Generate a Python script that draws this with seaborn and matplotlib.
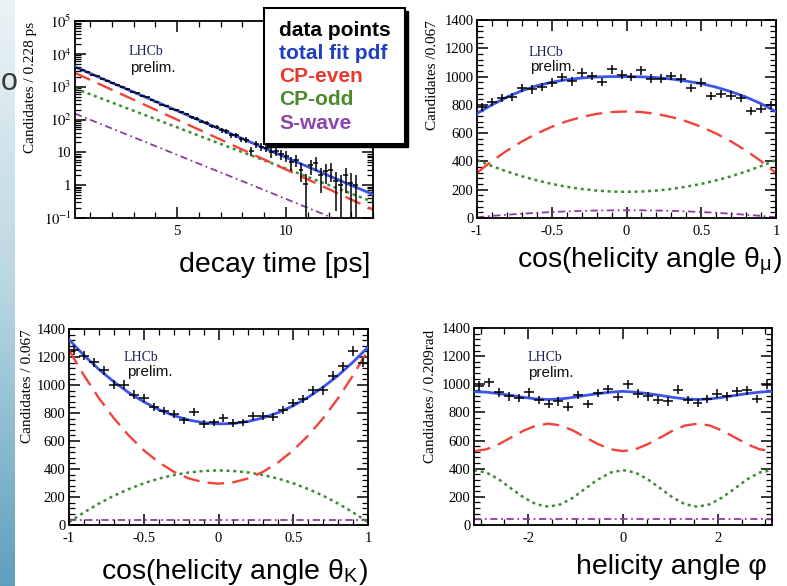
import numpy as np
import pandas as pd
import matplotlib
matplotlib.use("Agg")
import matplotlib.pyplot as plt
import seaborn as sns
from matplotlib.colors import LinearSegmentedColormap
from matplotlib.patches import Rectangle
from matplotlib.ticker import MultipleLocator, LogLocator, FuncFormatter, NullFormatter

# ─── Data ────────────────────────────────────────────────────────────────────
# decay time panel: 60 bins of 0.228 ps between 0.3 and 14 ps
T_RANGE = (0.3, 14.0)
T_NBINS = 60
T_DATA = [3750, 3150, 2780, 2330, 2060, 1720, 1530, 1290, 1140, 950,
          845, 700, 630, 520, 470, 385, 350, 285, 258, 212,
          200, 168, 150, 118, 106, 86, 79, 62, 60, 47,
          44, 34, 33, 25, 24, 11, 18, 15, 14, 10,
          11, 9, 8, 5, 6, 3, 1.1, 4, 4.8, 2,
          2.7, 3, 1.3, 1.0, 2.0, 1.2, 1.0, np.nan, np.nan, np.nan]
T_GRID = [0.3, 2, 4, 6, 8, 10, 12, 14]
T_TOTAL = [4000, 1312, 355, 96, 26, 7.0, 1.9, 0.52]
T_EVEN = [2630, 802, 198, 49, 12.1, 3.0, 0.74, 0.18]
T_ODD = [880, 329, 103, 32, 10.1, 3.2, 0.99, 0.31]
T_SWAVE = [151, 53, 15.5, 4.5, 1.32, 0.38, 0.11, 0.03]

# cos(theta_mu) and cos(theta_K) panels: 30 bins between -1 and 1
COS_NBINS = 30
MU_DATA = [783, 819, 847, 854, 918, 909, 925, 956, 997, 966,
           1027, 1004, 961, 1051, 1013, 997, 1044, 985, 985, 1004,
           985, 918, 956, 861, 878, 866, 847, 759, 771, 800]
K_DATA = [1253, 1210, 1162, 1105, 1002, 1002, 931, 907, 842, 811,
          795, 747, 804, 723, 733, 764, 728, 733, 780, 780,
          771, 823, 871, 900, 962, 962, 1067, 1134, 1241, 1160]
COS_GRID = [-1.0, -0.9, -0.8, -0.7, -0.6, -0.5, -0.4, -0.3, -0.2, -0.1, 0.0,
            0.1, 0.2, 0.3, 0.4, 0.5, 0.6, 0.7, 0.8, 0.9, 1.0]
MU_TOTAL = [740, 800, 855, 900, 935, 960, 978, 990, 997, 1000, 1000,
            998, 993, 983, 968, 950, 925, 893, 855, 808, 752]
MU_EVEN = [320, 402, 476, 541, 597, 645, 684, 714, 736, 749, 753,
           749, 736, 714, 684, 645, 597, 541, 476, 402, 318]
MU_ODD = [410, 367, 329, 295, 266, 241, 221, 205, 194, 187, 185,
          187, 194, 205, 221, 241, 266, 295, 329, 367, 410]
MU_SWAVE = [5, 15, 23, 30, 37, 42, 47, 50, 53, 54, 55,
            54, 53, 50, 47, 42, 37, 30, 23, 15, 5]
K_TOTAL = [1324, 1212, 1112, 1023, 945, 880, 825, 782, 750, 731, 722,
           725, 740, 766, 803, 852, 913, 985, 1068, 1164, 1270]
K_EVEN = [1250, 1069, 906, 763, 639, 534, 448, 381, 333, 305, 295,
          305, 333, 381, 448, 534, 639, 763, 906, 1069, 1250]
K_ODD = [20, 90, 153, 209, 257, 298, 331, 357, 375, 386, 390,
         386, 375, 357, 331, 298, 257, 209, 153, 90, 20]
K_SWAVE = [36, 36, 36, 36, 36, 36, 36, 36, 36, 36, 36,
           36, 36, 36, 36, 36, 36, 36, 36, 36, 36]

# phi panel: 30 bins between -pi and pi
PHI_RANGE = (-np.pi, np.pi)
PHI_DATA = [990, 1013, 942, 914, 902, 942, 890, 861, 878, 842,
            925, 861, 937, 966, 909, 1001, 933, 914, 890, 878,
            961, 890, 866, 895, 933, 914, 949, 956, 895, 997]
PHI_GRID = [-3.14, -2.88, -2.62, -2.36, -2.09, -1.83, -1.57, -1.31, -1.05, -0.79, -0.52, -0.26, 0.0,
            0.26, 0.52, 0.79, 1.05, 1.31, 1.57, 1.83, 2.09, 2.36, 2.62, 2.88, 3.14]
PHI_TOTAL = [948, 944, 934, 921, 907, 896, 892, 896, 907, 921, 934, 944, 950,
             944, 934, 921, 907, 896, 892, 896, 907, 921, 934, 944, 950]
PHI_EVEN = [525, 538, 574, 622, 671, 707, 720, 707, 671, 622, 574, 538, 525,
            538, 574, 622, 671, 707, 720, 707, 671, 622, 574, 538, 525]
PHI_ODD = [390, 373, 325, 260, 195, 147, 130, 147, 195, 260, 325, 373, 390,
           373, 325, 260, 195, 147, 130, 147, 195, 260, 325, 373, 390]
PHI_SWAVE = [40] * 25

LEGEND_LABELS = ["data points", "total fit pdf", "CP-even", "CP-odd", "S-wave"]

# ─── Style ───────────────────────────────────────────────────────────────────
sns.set_style("ticks")
plt.rcParams["font.family"] = ["Liberation Sans", "DejaVu Sans"]
plt.rcParams["mathtext.fontset"] = "stix"
plt.rcParams["axes.unicode_minus"] = False

C_BLUE = "#3a55e8"
C_RED = "#f0443a"
C_GREEN = "#3f8a35"
C_PURPLE = "#8a3d9c"
LEG_COLORS = ["black", "#1f3fbf", "#e8392f", "#4a8a2a", "#8e44ad"]

SERIF = "Liberation Serif"


def centers(lo, hi, n):
    edges = np.linspace(lo, hi, n + 1)
    return 0.5 * (edges[1:] + edges[:-1]), 0.5 * (edges[1] - edges[0])


def root_axes(ax):
    for s in ax.spines.values():
        s.set_linewidth(1.3)
        s.set_color("black")
        s.set_visible(True)
    ax.tick_params(which="both", direction="in", top=True, right=True, color="black",
                   labelsize=10.5, labelfontfamily=SERIF, pad=2.5, labelcolor="black")
    ax.tick_params(axis="x", which="both", pad=5)
    ax.tick_params(which="major", length=8, width=1.1)
    ax.tick_params(which="minor", length=4, width=0.9)
    ax.set_facecolor("white")


def draw_curves(ax, x, total, even, odd, swave):
    sns.lineplot(x=x, y=swave, ax=ax, color=C_PURPLE, linewidth=1.3,
                 linestyle=(0, (4, 2, 1, 2)), zorder=2)
    sns.lineplot(x=x, y=odd, ax=ax, color=C_GREEN, linewidth=1.8,
                 linestyle=(0, (1.2, 1.5)), zorder=2)
    sns.lineplot(x=x, y=even, ax=ax, color=C_RED, linewidth=1.7,
                 linestyle=(0, (7, 3.5)), zorder=2)
    sns.lineplot(x=x, y=total, ax=ax, color=C_BLUE, linewidth=2.0, zorder=3)


def draw_data(ax, x, y, half):
    y = np.asarray(y, dtype=float)
    err = np.sqrt(y)
    lower = np.minimum(err, y * 0.9999)
    ax.errorbar(x, y, yerr=[lower, err], xerr=half, fmt="none", ecolor="black",
                elinewidth=1.1, capsize=0, zorder=4)


def label_texts(ax, ylabel, ytop, lx, ly1, ly2, px, lab_x):
    ax.text(lab_x, ytop, ylabel, rotation=90, ha="center", va="top", transform=ax.transAxes,
            fontfamily=SERIF, fontsize=11, color="black")
    ax.text(lx, ly1, "LHCb", transform=ax.transAxes, ha="left", va="center",
            fontfamily=SERIF, fontsize=10, color="#1c2250")
    ax.text(px, ly2, "prelim.", transform=ax.transAxes, ha="left", va="center",
            fontsize=11, color="#111111")


gfmt = FuncFormatter(lambda v, p: "%g" % v)

fig = plt.figure(figsize=(7.87, 5.86), dpi=100)
fig.patch.set_facecolor("white")

# slide background strip on the left edge
bg = fig.add_axes([0, 0, 15 / 787, 1], zorder=-5)
strip = LinearSegmentedColormap.from_list("strip", ["#eaf3f6", "#b8d6e2", "#5f9fbe"])
bg.imshow(np.linspace(0, 1, 256).reshape(-1, 1), aspect="auto", cmap=strip,
          extent=[0, 1, 0, 1], origin="upper")
bg.axis("off")
fig.text(1 / 787, 1 - 82 / 586, "o", fontsize=22, color="#3a3a3a", ha="left", va="center")

# ─── Panel 1: decay time ─────────────────────────────────────────────────────
ax1 = fig.add_axes([75 / 787, 1 - 218 / 586, 298 / 787, 197 / 586])
ax1.set_yscale("log")
tx, thalf = centers(T_RANGE[0], T_RANGE[1], T_NBINS)
draw_curves(ax1, T_GRID, T_TOTAL, T_EVEN, T_ODD, T_SWAVE)
draw_data(ax1, tx, T_DATA, thalf)
ax1.set_xlim(*T_RANGE)
ax1.set_ylim(0.1, 1e5)
root_axes(ax1)
ax1.xaxis.set_major_locator(MultipleLocator(5))
ax1.xaxis.set_minor_locator(MultipleLocator(1))
ax1.xaxis.set_major_formatter(gfmt)
ax1.yaxis.set_major_locator(LogLocator(base=10, numticks=10))
ax1.yaxis.set_minor_locator(LogLocator(base=10, subs=np.arange(2, 10), numticks=20))
ax1.yaxis.set_minor_formatter(NullFormatter())


def logfmt(v, p):
    if np.isclose(v, 10):
        return "10"
    if np.isclose(v, 1):
        return "1"
    return r"$10^{%d}$" % int(round(np.log10(v)))


ax1.yaxis.set_major_formatter(FuncFormatter(logfmt))
label_texts(ax1, "Candidates / 0.228 ps", 0.995, 0.178, 0.843, 0.761, 0.185, -0.148)

# ─── Panel 2: cos theta_mu ───────────────────────────────────────────────────
ax2 = fig.add_axes([477 / 787, 1 - 218 / 586, 299 / 787, 198 / 586])
cx, chalf = centers(-1, 1, COS_NBINS)
draw_curves(ax2, COS_GRID, MU_TOTAL, MU_EVEN, MU_ODD, MU_SWAVE)
draw_data(ax2, cx, MU_DATA, chalf)
ax2.set_xlim(-1, 1)
ax2.set_ylim(0, 1400)
label_texts(ax2, "Candidates /0.067", 1.0, 0.174, 0.838, 0.763, 0.177, -0.148)

# ─── Panel 3: cos theta_K ────────────────────────────────────────────────────
ax3 = fig.add_axes([69 / 787, 1 - 525 / 586, 299 / 787, 196 / 586])
draw_curves(ax3, COS_GRID, K_TOTAL, K_EVEN, K_ODD, K_SWAVE)
draw_data(ax3, cx, K_DATA, chalf)
ax3.set_xlim(-1, 1)
ax3.set_ylim(0, 1400)
label_texts(ax3, "Candidates / 0.067", 1.0, 0.181, 0.857, 0.781, 0.194, -0.140)

# ─── Panel 4: phi ────────────────────────────────────────────────────────────
ax4 = fig.add_axes([474 / 787, 1 - 525 / 586, 298 / 787, 197 / 586])
px, phalf = centers(PHI_RANGE[0], PHI_RANGE[1], len(PHI_DATA))
draw_curves(ax4, PHI_GRID, PHI_TOTAL, PHI_EVEN, PHI_ODD, PHI_SWAVE)
draw_data(ax4, px, PHI_DATA, phalf)
ax4.set_xlim(*PHI_RANGE)
ax4.set_ylim(0, 1400)
label_texts(ax4, "Candidates / 0.209rad", 0.99, 0.178, 0.848, 0.772, 0.181, -0.145)

for ax in (ax2, ax3, ax4):
    root_axes(ax)
    ax.yaxis.set_major_locator(MultipleLocator(200))
    ax.yaxis.set_minor_locator(MultipleLocator(40))
    ax.yaxis.set_major_formatter(gfmt)
    ax.xaxis.set_major_formatter(gfmt)
for ax in (ax2, ax3):
    ax.xaxis.set_major_locator(MultipleLocator(0.5))
    ax.xaxis.set_minor_locator(MultipleLocator(0.1))
ax4.xaxis.set_major_locator(MultipleLocator(2))
ax4.xaxis.set_minor_locator(MultipleLocator(0.5))

for ax in (ax1, ax2, ax3, ax4):
    ax.set_xlabel("")
    ax.set_ylabel("")
    if ax.get_legend() is not None:
        ax.get_legend().remove()

# ─── Slide-style axis titles ─────────────────────────────────────────────────
XL = dict(fontsize=20.5, color="black", ha="right", va="center")
fig.text(370 / 787, 1 - 265 / 586, "decay time [ps]", **XL)
fig.text(782 / 787, 1 - 261 / 586, r"cos(helicity angle θ$_\mathregular{\mu}$)", **XL)
fig.text(368 / 787, 1 - 572 / 586, r"cos(helicity angle θ$_\mathregular{K}$)", **XL)
fig.text(767 / 787, 1 - 567 / 586, "helicity angle φ", **XL)

# ─── Legend box (ROOT style with shadow) ─────────────────────────────────────
bx, by, bw, bh = 264 / 787, 1 - 144 / 586, 141 / 787, 136 / 586
fig.add_artist(Rectangle((bx + 3 / 787, by - 3 / 586), bw, bh, transform=fig.transFigure,
                         facecolor="black", edgecolor="black", zorder=20))
fig.add_artist(Rectangle((bx, by), bw, bh, transform=fig.transFigure,
                         facecolor="white", edgecolor="black", linewidth=1.5, zorder=21))
for i, (lab, col) in enumerate(zip(LEGEND_LABELS, LEG_COLORS)):
    t = fig.text(279 / 787, 1 - (30 + 23.3 * i) / 586, lab, fontsize=15, fontweight="bold",
                 color=col, ha="left", va="center")
    t.set_zorder(22)

fig.savefig("out.png", dpi=100)
